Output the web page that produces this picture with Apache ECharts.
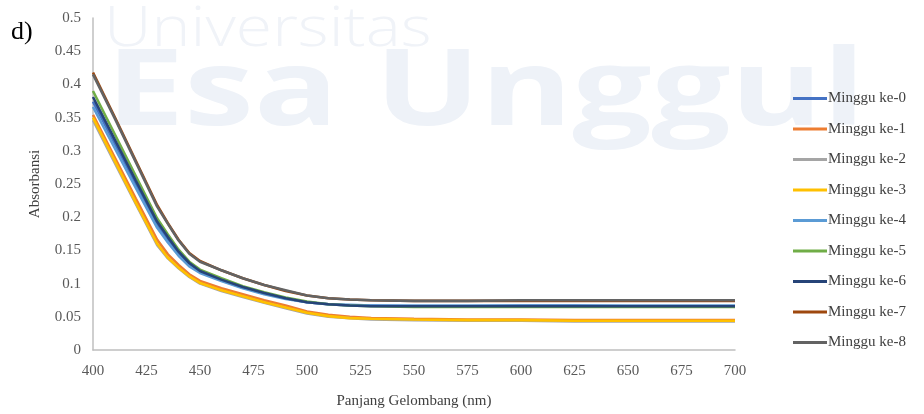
<!DOCTYPE html>
<html>
<head>
<meta charset="utf-8">
<script src="https://cdn.jsdelivr.net/npm/echarts@6/dist/echarts.min.js"></script>
<style>
html,body{margin:0;padding:0;background:#fff;}
#chart{width:924px;height:414px;}
</style>
</head>
<body>
<div id="chart"></div>
<script>
const wavelengths = [400,410,420,430,435,440,445,450,460,470,480,490,500,510,520,530,550,575,600,625,650,675,700];
const seriesNames = ['Minggu ke-0','Minggu ke-1','Minggu ke-2','Minggu ke-3','Minggu ke-4','Minggu ke-5','Minggu ke-6','Minggu ke-7','Minggu ke-8'];
const week0 = [0.374,0.312,0.250,0.189,0.166,0.145,0.129,0.118,0.105,0.094,0.085,0.078,0.072,0.069,0.067,0.067,0.066,0.066,0.067,0.067,0.066,0.066,0.066];
const week1 = [0.354,0.291,0.228,0.166,0.144,0.128,0.114,0.104,0.093,0.084,0.075,0.067,0.058,0.053,0.050,0.048,0.047,0.046,0.046,0.045,0.045,0.045,0.045];
const week2 = [0.346,0.283,0.220,0.158,0.138,0.123,0.110,0.100,0.089,0.080,0.071,0.063,0.055,0.050,0.048,0.046,0.045,0.044,0.044,0.043,0.043,0.043,0.043];
const week3 = [0.350,0.286,0.222,0.160,0.139,0.124,0.111,0.101,0.090,0.081,0.072,0.064,0.056,0.051,0.048,0.047,0.046,0.045,0.045,0.044,0.044,0.044,0.044];
const week4 = [0.366,0.305,0.244,0.184,0.162,0.142,0.126,0.116,0.104,0.093,0.084,0.077,0.072,0.069,0.068,0.067,0.067,0.067,0.067,0.067,0.067,0.067,0.067];
const week5 = [0.390,0.326,0.262,0.198,0.174,0.151,0.133,0.121,0.108,0.096,0.087,0.079,0.073,0.069,0.067,0.066,0.065,0.065,0.065,0.065,0.065,0.065,0.065];
const week6 = [0.381,0.318,0.255,0.193,0.170,0.148,0.131,0.119,0.106,0.095,0.086,0.078,0.072,0.069,0.067,0.066,0.066,0.066,0.066,0.066,0.066,0.066,0.066];
const week7 = [0.418,0.352,0.285,0.218,0.191,0.166,0.146,0.134,0.120,0.108,0.098,0.089,0.082,0.078,0.076,0.075,0.074,0.074,0.074,0.074,0.074,0.074,0.074];
const week8 = [0.415,0.350,0.283,0.216,0.190,0.165,0.145,0.133,0.120,0.108,0.098,0.090,0.082,0.078,0.076,0.075,0.074,0.074,0.075,0.075,0.075,0.075,0.075];
const allWeeks = [week0,week1,week2,week3,week4,week5,week6,week7,week8];
const colors = ['#4472C4','#ED7D31','#A5A5A5','#FFC000','#5B9BD5','#70AD47','#264478','#9E480E','#636363'];

const FONT = '"Liberation Serif", "Times New Roman", serif';
const chart = echarts.init(document.getElementById('chart'));
chart.setOption({
  animation: false,
  backgroundColor: '#ffffff',
  color: colors,
  graphic: [
    { type: 'text', x: 104, y: 2, scaleX: 1.18, z: -10, silent: true,
      style: { text: 'Universitas', font: '300 56px "Open Sans", sans-serif', fill: '#f0f3f8' } },
    { type: 'text', x: 106, y: 42, scaleX: 1.32, z: -10, silent: true,
      style: { text: 'Esa Unggul', font: 'bold 106px "Open Sans", sans-serif', fill: '#eef2f8' } },
    { type: 'text', left: 11, top: 19, z: 10, silent: true,
      style: { text: 'd)', font: '26px ' + FONT, fill: '#000000' } }
  ],
  grid: { left: 93, right: 189, top: 18, bottom: 63, containLabel: false },
  legend: {
    orient: 'vertical', left: 788, top: 86,
    itemWidth: 34, itemHeight: 3, itemGap: 15.5,
    icon: 'rect',
    textStyle: { fontFamily: FONT, fontSize: 15, color: '#404040', padding: [0,0,0,-4] },
    data: seriesNames
  },
  xAxis: {
    type: 'value', min: 400, max: 700, interval: 25,
    name: 'Panjang Gelombang (nm)', nameLocation: 'middle', nameGap: 44,
    nameTextStyle: { fontFamily: FONT, fontSize: 15, color: '#404040' },
    axisLine: { show: true, lineStyle: { color: '#bfbfbf', width: 1.5 } },
    axisTick: { show: false },
    splitLine: { show: false },
    axisLabel: { fontFamily: FONT, fontSize: 15, color: '#595959', margin: 14 }
  },
  yAxis: {
    type: 'value', min: 0, max: 0.5, interval: 0.05,
    name: 'Absorbansi', nameLocation: 'middle', nameGap: 50, nameRotate: 90,
    nameTextStyle: { fontFamily: FONT, fontSize: 15, color: '#404040' },
    axisLine: { show: true, lineStyle: { color: '#bfbfbf', width: 1.5 } },
    axisTick: { show: false },
    splitLine: { show: false },
    axisLabel: { fontFamily: FONT, fontSize: 15, color: '#595959', margin: 12 }
  },
  series: seriesNames.map((name, i) => ({
    name: name,
    type: 'line',
    showSymbol: false,
    symbol: 'none',
    lineStyle: { width: 2.6, color: colors[i] },
    itemStyle: { color: colors[i] },
    data: wavelengths.map((w, j) => [w, allWeeks[i][j]])
  }))
});
</script>
</body>
</html>
